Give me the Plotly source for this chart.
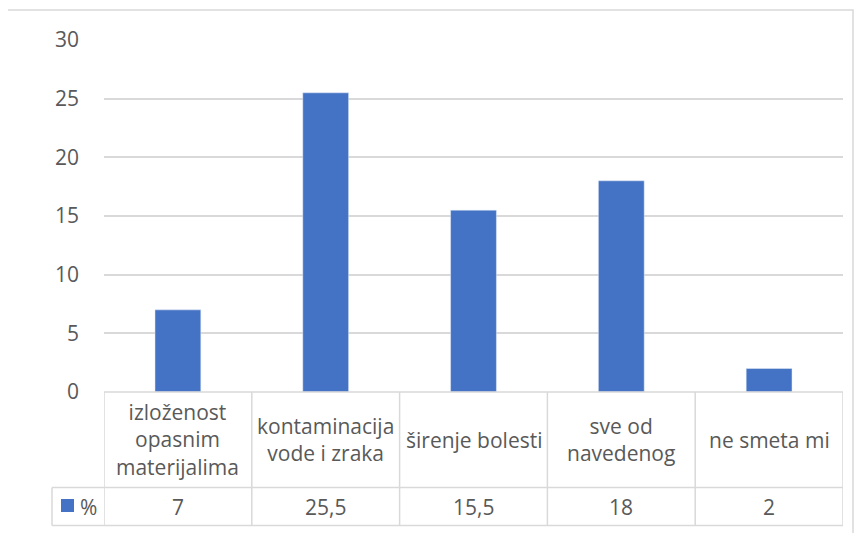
import plotly.graph_objects as go

categories = [
    "izloženost opasnim materijalima",
    "kontaminacija vode i zraka",
    "širenje bolesti",
    "sve od navedenog",
    "ne smeta mi",
]
header_labels = [
    "izloženost<br>opasnim<br>materijalima",
    "kontaminacija<br>vode i zraka",
    "širenje bolesti",
    "sve od<br>navedenog",
    "ne smeta mi",
]
values = [7, 25.5, 15.5, 18, 2]
value_labels = ["7", "25,5", "15,5", "18", "2"]
series_name = "%"
y_ticks = [0, 5, 10, 15, 20, 25, 30]

BLUE = "#4472C4"
GRID = "#d9d9d9"
TEXT = "#595959"
FONT = "Open Sans"
FS = 21

# page body adds an 8px margin, so the figure is drawn 8px in
OFF = 8
W, H = 866 - OFF, 533 - OFF
L, R, T, B = 104 - OFF, 23, 40 - OFF, 141
pw, ph = W - L - R, H - T - B


def px_x(x):
    # x in screenshot pixels -> paper coords
    return (x - OFF - L) / pw


def px_y(y):
    return (H - B - (y - OFF)) / ph


fig = go.Figure()
fig.add_trace(
    go.Bar(x=categories, y=values, marker_color=BLUE, width=0.31, name=series_name)
)

shapes = []
# outer chart border
shapes.append(dict(type="rect", xref="paper", yref="paper",
                   x0=px_x(7), x1=px_x(853), y0=px_y(560), y1=px_y(10),
                   line=dict(color=GRID, width=1.5), layer="below"))

row1_bot = px_y(487.5)
row2_bot = px_y(525.5)
# horizontal table lines
shapes.append(dict(type="line", xref="x", yref="paper", x0=-0.5, x1=len(categories) - 0.5,
                   y0=0, y1=0, line=dict(color=GRID, width=1.5)))
shapes.append(dict(type="line", xref="paper", yref="paper", x0=px_x(52), x1=1,
                   y0=row1_bot, y1=row1_bot, line=dict(color=GRID, width=1.5)))
shapes.append(dict(type="line", xref="paper", yref="paper", x0=px_x(52), x1=1,
                   y0=row2_bot, y1=row2_bot, line=dict(color=GRID, width=1.5)))
# vertical table lines
for i in range(len(categories) + 1):
    shapes.append(dict(type="line", xref="x", yref="paper", x0=i - 0.5, x1=i - 0.5,
                       y0=0, y1=row2_bot, line=dict(color=GRID, width=1.5)))
shapes.append(dict(type="line", xref="paper", yref="paper", x0=px_x(52), x1=px_x(52),
                   y0=row1_bot, y1=row2_bot, line=dict(color=GRID, width=1.5)))
# legend key
shapes.append(dict(type="rect", xref="paper", yref="paper",
                   x0=px_x(61), x1=px_x(74), y0=px_y(512), y1=px_y(499),
                   fillcolor=BLUE, line=dict(width=0)))

annotations = []
for i, (lab, val) in enumerate(zip(header_labels, value_labels)):
    annotations.append(dict(x=i, y=(0 + row1_bot) / 2, xref="x", yref="paper",
                            text=lab, showarrow=False, yanchor="middle",
                            xanchor="center",
                            font=dict(size=FS, color=TEXT, family=FONT)))
    annotations.append(dict(x=i, y=(row1_bot + row2_bot) / 2, xref="x", yref="paper",
                            text=val, showarrow=False, yanchor="middle",
                            xanchor="center",
                            font=dict(size=FS, color=TEXT, family=FONT)))
annotations.append(dict(x=px_x(88), y=(row1_bot + row2_bot) / 2, xref="paper",
                        yref="paper", text=series_name, showarrow=False,
                        yanchor="middle", xanchor="center",
                        font=dict(size=FS, color=TEXT, family=FONT)))

fig.update_layout(
    width=W,
    height=H,
    margin=dict(l=L, r=R, t=T, b=B),
    plot_bgcolor="white",
    paper_bgcolor="white",
    showlegend=False,
    shapes=shapes,
    annotations=annotations,
    font=dict(family=FONT, color=TEXT, size=FS),
)
fig.update_xaxes(showticklabels=False, showgrid=False, zeroline=False,
                 range=[-0.5, len(categories) - 0.5])
fig.update_yaxes(range=[0, 30], tickvals=y_ticks, showgrid=True, gridcolor=GRID,
                 gridwidth=1.5, zeroline=False, ticklabelstandoff=24,
                 tickfont=dict(size=FS, color=TEXT, family=FONT))

fig.write_html("out.html")
